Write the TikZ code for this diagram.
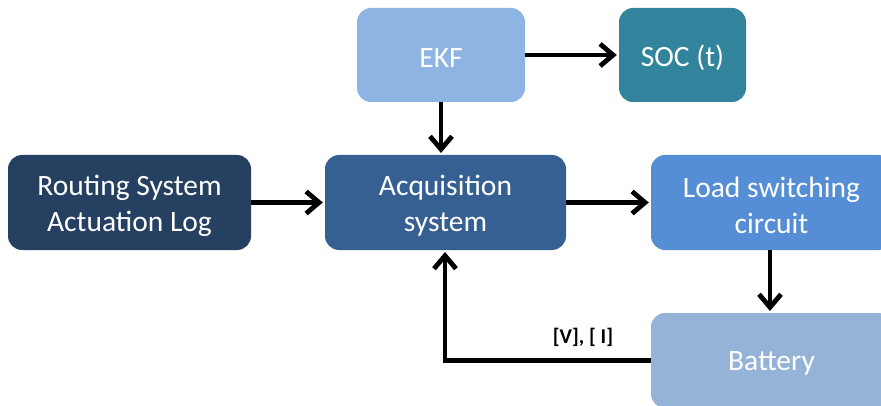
\documentclass[tikz,border=0pt]{standalone}
\usepackage{fontspec}
\setmainfont{Carlito}
\usetikzlibrary{arrows.meta}
\definecolor{cRout}{HTML}{264061}
\definecolor{cAcq}{HTML}{366092}
\definecolor{cEkf}{HTML}{8EB4E3}
\definecolor{cSoc}{HTML}{31849B}
\definecolor{cLoad}{HTML}{558ED5}
\definecolor{cBat}{HTML}{95B3D7}
\tikzset{
  blk/.style={rounded corners=14pt, draw=none, inner sep=0pt},
  txt/.style={text=white, align=center, font=\fontsize{29.5}{36}\selectfont, inner sep=0pt, yshift=-3pt},
  conn/.style={line width=4.8pt, -{Straight Barb[length=13pt,width=22pt,line width=4.8pt]}, shorten >=2pt},
}
\begin{document}
\begin{tikzpicture}[x=1pt,y=1pt]
\useasboundingbox (0,0) rectangle (881,405);
\clip (0,0) rectangle (881,405);
\node[blk, fill=cEkf, minimum width=168pt, minimum height=94pt,
  label={[txt]center:EKF}] (ekf) at (441,350) {};
\node[blk, fill=cSoc, minimum width=127pt, minimum height=94pt,
  label={[txt]center:SOC (t)}] (soc) at (682.5,350) {};
\node[blk, fill=cRout, minimum width=243pt, minimum height=95pt,
  label={[txt]center:Routing System\\Actuation Log}] (rout) at (129.5,202.5) {};
\node[blk, fill=cAcq, minimum width=241pt, minimum height=95pt,
  label={[txt]center:Acquisition\\system}] (acq) at (445.5,202.5) {};
\node[blk, fill=cLoad, minimum width=241pt, minimum height=95pt,
  label={[txt]center:Load switching\\circuit}] (load) at (771.5,202.5) {};
\node[blk, fill=cBat, minimum width=241pt, minimum height=95pt,
  label={[txt]center:Battery}] (bat) at (771.5,44.5) {};
\coordinate (ekfdown) at (441,{350-47});
\coordinate (acqup) at (441,{202.5+47.5});
\coordinate (loaddown) at (770,{202.5-47.5});
\coordinate (batup) at (770,{44.5+47.5});
\coordinate (corner) at (445,44.5);
\coordinate (acqin) at (445,{202.5-47.5});
\draw[conn] (ekf.east) -- (soc.west);
\draw[conn] (ekfdown) -- (acqup);
\draw[conn] (rout.east) -- (acq.west);
\draw[conn] (acq.east) -- (load.west);
\draw[conn] (loaddown) -- (batup);
\draw[conn] (bat.west) -- (corner) -- (acqin);
\node[font=\fontsize{21}{24}\selectfont\bfseries, text=black] (lbl) at (583,68) {[V], [ I]};
\end{tikzpicture}
\end{document}
